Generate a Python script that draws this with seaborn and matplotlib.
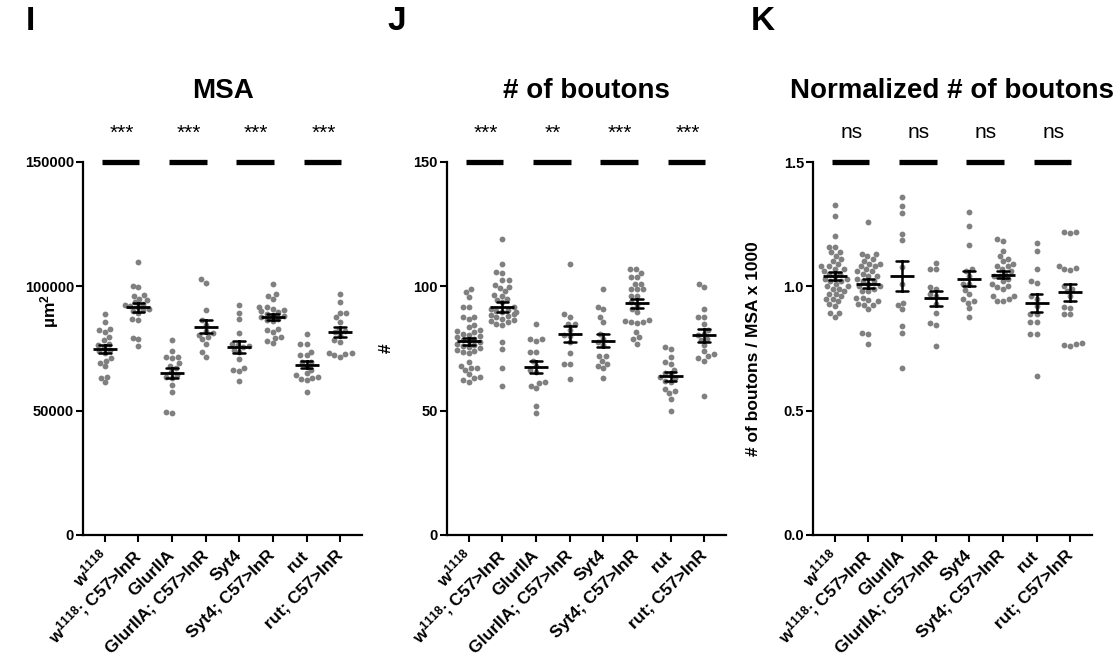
import numpy as np
import pandas as pd
import matplotlib
matplotlib.use("Agg")
import matplotlib.pyplot as plt
import seaborn as sns
from matplotlib.transforms import blended_transform_factory

# ---------------------------------------------------------------- labels
genotypes = [
    "w$^{1118}$", "w$^{1118}$; C57>InR",
    "GlurIIA", "GlurIIA; C57>InR",
    "Syt4", "Syt4; C57>InR",
    "rut", "rut; C57>InR",
]

# ---------------------------------------------------------------- MSA (µm²)
msa_w1118 = [88900, 85600, 82300, 81600, 82800, 79600, 77000, 76400, 75500, 74500,
             74000, 73000, 71200, 69200, 67800, 70100, 63600, 61400, 63200, 78500]
msa_w1118_inr = [109800, 100200, 99600, 96200, 96500, 95000, 94500, 93500, 93000, 92500,
                 92000, 91500, 91000, 90500, 90000, 89100, 86800, 86400, 79300, 78700, 76100]
msa_glur = [78300, 74100, 71600, 71600, 71300, 69000, 68000, 67000, 65500, 64500,
            63700, 63000, 60300, 57600, 49200, 49600]
msa_glur_inr = [102900, 101200, 90500, 86400, 84500, 81200, 80500, 79700, 78700, 76700,
                73700, 71700, 82000]
msa_syt4 = [92500, 89400, 86700, 81100, 77000, 76400, 76000, 74500, 73700, 70800,
            67100, 66400, 65800, 61900, 75500]
msa_syt4_inr = [100900, 96900, 96100, 94800, 91800, 91500, 91000, 90500, 90000, 89500,
                89000, 88500, 88000, 87500, 87000, 86500, 86000, 82900, 81500, 82500,
                79300, 78100, 77100, 79500]
msa_rut = [80800, 76900, 76700, 73700, 72400, 72200, 69600, 69500, 68000, 66500,
           65000, 64300, 63500, 62800, 62300, 63200, 57600]
msa_rut_inr = [96900, 93800, 89400, 89400, 87600, 85800, 83000, 82000, 81500, 80500,
               78400, 77700, 73300, 72500, 71600, 73000, 72800]

# ---------------------------------------------------------------- bouton counts
bt_w1118 = [98.8, 97.8, 95.8, 91.8, 91.8, 87.8, 87.8, 86.7,
            84.5, 83.5, 82.5, 82, 81.5, 81, 80.5, 80, 79.5, 79, 78.5, 78, 77.5, 77,
            76.5, 76, 75.5, 75, 74.5, 74, 73.5, 73,
            69.7, 68.0, 67.0, 67.0, 66.5, 64.6, 63.5, 62.5, 61.6, 63.0]
bt_w1118_inr = [118.9, 108.8, 105.9, 105.5, 102.7, 102.5, 100.5, 99.8, 99.5, 98,
                96.5, 96, 95, 94.5, 93.5,
                91, 90.5, 90, 89.5, 89, 88.5, 88, 87.5, 87, 86.5, 86, 85.5, 85, 84.5,
                77.7, 74.8, 67.0, 59.9, 89.5, 91.5]
bt_glur = [84.8, 78.8, 78.0, 78.8, 73.7, 73.7, 70, 68, 66.3, 65.5,
           61.5, 60.0, 59.0, 61.0, 51.9, 49.1]
bt_glur_inr = [108.8, 88.7, 87.8, 84.8, 84.8, 82.5, 80.5, 80.0, 77.5, 73.1,
               68.8, 68.8, 62.9]
bt_syt4 = [98.8, 91.8, 90.8, 87.8, 85.8, 81, 79, 77.5, 76.5, 72.0,
           71.8, 70.0, 68.8, 68.0, 67.0, 63.0]
bt_syt4_inr = [106.8, 106.8, 105.5, 103.9, 103.9, 101, 101, 98.8, 98.8, 98.8,
               96.1, 96.1, 93.5, 92.5, 91, 89.5, 86.5, 86.0, 85.8, 85.5,
               85.4, 81.8, 79.7, 78.7, 76.8]
bt_rut = [75.7, 74.8, 71.7, 69.5, 68.8, 66.5, 65.0, 64.5, 63.5, 63.0,
          62.0, 61.5, 58.8, 57.9, 57.0, 54.7, 49.9]
bt_rut_inr = [101.0, 99.8, 90.8, 87.8, 87.8, 84.8, 82.5, 81, 80.5, 79.0,
              78.5, 76.5, 74, 72.8, 72.0, 71.0, 70.1, 55.9]

# ---------------------------------------------------------------- normalized counts
nb_w1118 = [1.327, 1.284, 1.204, 1.159, 1.159, 1.137, 1.137,
            1.12, 1.11, 1.10, 1.09, 1.08, 1.07, 1.06, 1.05, 1.05, 1.04, 1.03,
            1.02, 1.01, 1.00, 1.00, 0.99, 0.98, 0.97, 0.96, 0.95, 0.94,
            1.08, 1.07, 1.03, 1.02, 0.99, 0.97, 0.95,
            0.891, 0.891, 0.875, 0.93, 0.92]
nb_w1118_inr = [1.257, 1.13, 1.123, 1.13,
                1.11, 1.10, 1.09, 1.08, 1.07, 1.06, 1.05, 1.04, 1.03, 1.02,
                1.01, 1.00, 0.99, 0.98, 1.08, 1.06, 1.04, 1.02, 1.00, 0.98,
                0.952, 0.945, 0.952, 0.925, 0.909, 0.925, 0.94, 0.93,
                0.812, 0.808, 0.768, 1.09]
nb_glur = [1.358, 1.323, 1.294, 1.21, 1.186, 1.076, 1.009, 0.934, 0.909, 0.925,
           0.842, 0.814, 0.673]
nb_glur_inr = [1.095, 1.07, 1.07, 0.998, 0.989, 0.97, 0.929, 0.891, 0.852, 0.844,
               0.76, 0.96]
nb_syt4 = [1.30, 1.243, 1.166, 1.07, 1.06, 1.04, 1.01, 1.01, 0.985, 0.969,
           0.948, 0.942, 0.934, 0.911, 0.878]
nb_syt4_inr = [1.189, 1.182, 1.143, 1.12, 1.11, 1.10, 1.09, 1.08, 1.08, 1.07,
               1.06, 1.05, 1.04, 1.04, 1.03, 1.02, 1.01, 0.996, 1.0, 0.988,
               0.961, 0.961, 0.95, 0.942, 0.942]
nb_rut = [1.175, 1.143, 1.068, 1.023, 1.012, 0.96, 0.95, 0.92, 0.889, 0.889,
          0.856, 0.856, 0.808, 0.808, 0.639]
nb_rut_inr = [1.22, 1.213, 1.22, 1.08, 1.075, 1.07, 1.065, 1.0, 0.99, 0.98,
              0.96, 0.917, 0.913, 0.889, 0.889, 0.772, 0.765, 0.76, 0.77]

# ---------------------------------------------------------------- annotations
panel_letters = ["I", "J", "K"]
panel_titles = ["MSA", "# of boutons", "Normalized # of boutons"]
y_labels = ["µm$^2$", "#", "# of boutons / MSA x 1000"]
msa_ticks = [0, 50000, 100000, 150000]
bouton_ticks = [0, 50, 100, 150]
norm_ticks = [0.0, 0.5, 1.0, 1.5]
msa_sig = ["***", "***", "***", "***"]
bouton_sig = ["***", "**", "***", "***"]
norm_sig = ["ns", "ns", "ns", "ns"]

# ---------------------------------------------------------------- style
sns.set_theme(style="ticks")
plt.rcParams["font.family"] = ["Liberation Sans", "DejaVu Sans"]
plt.rcParams["font.weight"] = "bold"
plt.rcParams["axes.labelweight"] = "bold"
plt.rcParams["text.color"] = "black"
plt.rcParams["axes.labelcolor"] = "black"
plt.rcParams["xtick.color"] = "black"
plt.rcParams["ytick.color"] = "black"
plt.rcParams["mathtext.fontset"] = "custom"
plt.rcParams["mathtext.rm"] = "Liberation Sans:bold"
plt.rcParams["mathtext.bf"] = "Liberation Sans:bold"
plt.rcParams["mathtext.it"] = "Liberation Sans:bold"
plt.rcParams["mathtext.default"] = "rm"

DOT = "#808080"


def long_frame(groups):
    rows = []
    for name, vals in zip(genotypes, groups):
        for v in vals:
            rows.append((name, v))
    return pd.DataFrame(rows, columns=["genotype", "value"])


panels = [
    ([msa_w1118, msa_w1118_inr, msa_glur, msa_glur_inr,
      msa_syt4, msa_syt4_inr, msa_rut, msa_rut_inr], msa_ticks, msa_sig, "{:.0f}"),
    ([bt_w1118, bt_w1118_inr, bt_glur, bt_glur_inr,
      bt_syt4, bt_syt4_inr, bt_rut, bt_rut_inr], bouton_ticks, bouton_sig, "{:.0f}"),
    ([nb_w1118, nb_w1118_inr, nb_glur, nb_glur_inr,
      nb_syt4, nb_syt4_inr, nb_rut, nb_rut_inr], norm_ticks, norm_sig, "{:.1f}"),
]

fig = plt.figure(figsize=(11.2, 6.6), dpi=100)
lefts = [83 / 1120, 447 / 1120, 813 / 1120]
letter_x = [30 / 1120, 397 / 1120, 763 / 1120]
ylabel_pos = [(-0.08, 0.6), (-0.19, 0.5), (-0.185, 0.5)]
ax_w, ax_b, ax_h = 279 / 1120, 125 / 660, 373 / 660

for i, (groups, ticks, sig, fmt) in enumerate(panels):
    ax = fig.add_axes([lefts[i], ax_b, ax_w, ax_h])
    df = long_frame(groups)

    sns.swarmplot(data=df, x="genotype", y="value", order=genotypes,
                  color=DOT, size=4.2, ax=ax, zorder=1)
    sns.pointplot(data=df, x="genotype", y="value", order=genotypes,
                  errorbar="se", linestyle="none", marker="_",
                  markersize=17, markeredgewidth=2.0, color="black",
                  capsize=0.35, err_kws={"linewidth": 1.8}, ax=ax, zorder=3)

    ax.set_xlim(-0.65, 7.65)
    ax.set_ylim(ticks[0], ticks[-1])
    ax.set_yticks(ticks)
    ax.set_yticklabels([fmt.format(t) for t in ticks], fontsize=10.5, fontweight="bold")
    ax.set_xticks(range(len(genotypes)))
    ax.set_xticklabels(genotypes, rotation=45, ha="right", va="center",
                       rotation_mode="anchor", fontsize=12.5, fontweight="bold")
    ax.tick_params(axis="both", direction="out", length=5, width=1.5, color="black")
    ax.tick_params(axis="y", pad=1.5)
    ax.tick_params(axis="x", pad=8)
    for s in ("left", "bottom"):
        ax.spines[s].set_linewidth(1.6)
        ax.spines[s].set_color("black")
    sns.despine(ax=ax)

    ax.set_xlabel("")
    ax.set_ylabel(y_labels[i], fontsize=12.5, fontweight="bold")
    ax.yaxis.set_label_coords(*ylabel_pos[i])

    # significance bars and labels above each pair
    trans = blended_transform_factory(ax.transData, ax.transAxes)
    for k, lab in enumerate(sig):
        x0, x1 = 2 * k - 0.09, 2 * k + 1.03
        ax.plot([x0, x1], [1.0, 1.0], color="black", lw=3.8, transform=trans,
                clip_on=False, solid_capstyle="butt")
        ax.text(2 * k + 0.5, 1.078, lab, transform=trans, ha="center", va="center",
                fontsize=15, fontweight="normal")

    ax.text(0.5, 1.19, panel_titles[i], transform=ax.transAxes, ha="center",
            va="center", fontsize=20, fontweight="bold")
    fig.text(letter_x[i], 1 - 22 / 660, panel_letters[i], ha="center", va="center",
             fontsize=24, fontweight="bold")

fig.savefig("out.png", dpi=100)
